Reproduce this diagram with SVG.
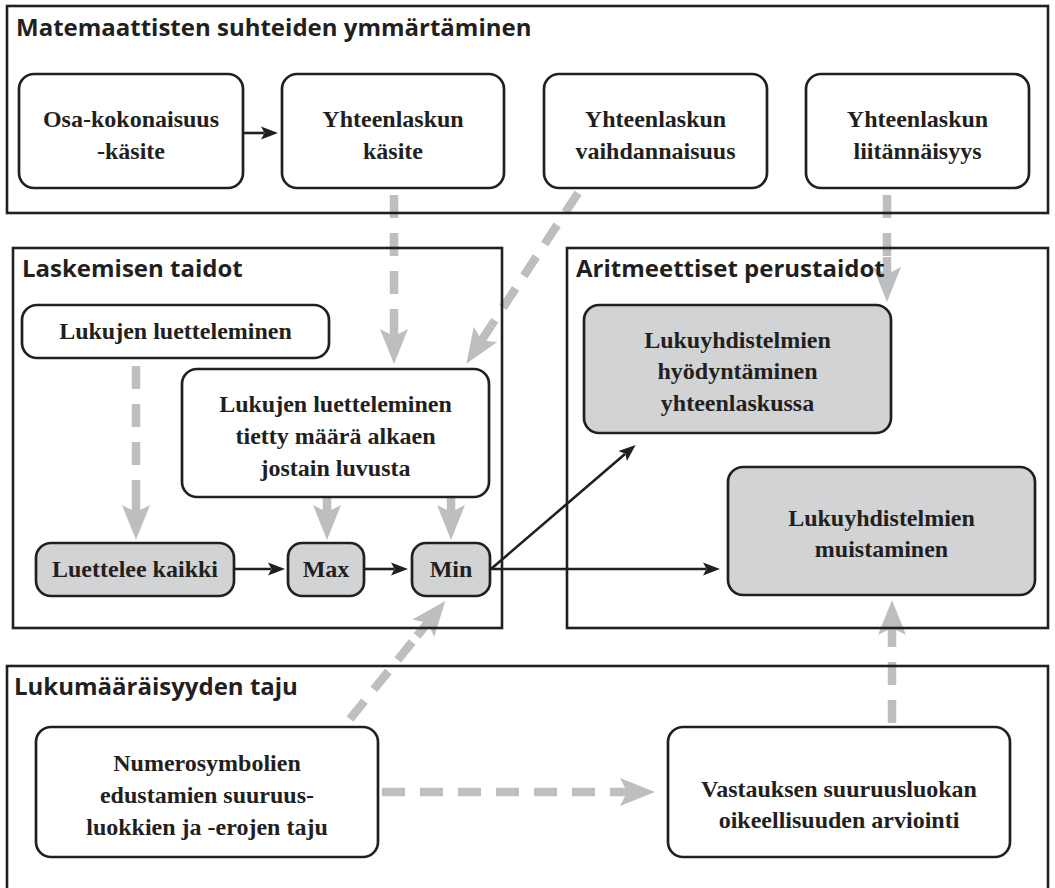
<svg xmlns="http://www.w3.org/2000/svg" width="1055" height="888" viewBox="0 0 1055 888">
<style>
.cont{fill:none;stroke:#231f20;stroke-width:2.6}
.title{font-family:"Open Sans","Liberation Sans",sans-serif;font-weight:700;font-size:24px;fill:#231f20}
.box{fill:#ffffff;stroke:#231f20;stroke-width:2.7}
.gbox{fill:#d1d3d4;stroke:#231f20;stroke-width:2.7}
.lbl{font-family:"Liberation Serif","Times New Roman",serif;font-weight:700;font-size:24px;fill:#231f20;text-anchor:middle}
.gdash{fill:none;stroke:#bcbec0;stroke-width:8.5;stroke-dasharray:23 15;marker-end:url(#gh)}
.blk{fill:none;stroke:#231f20;stroke-width:2.6;marker-end:url(#bh)}
</style>
<defs>
<marker id="gh" markerUnits="userSpaceOnUse" viewBox="-1 -15 50 30" refX="0" refY="0" markerWidth="50" markerHeight="30" orient="auto">
<path d="M0,-4.25 L15,-4.25 L10,-14 L45,0 L10,14 L15,4.25 L0,4.25 Z" fill="#bcbec0"/>
</marker>
<marker id="bh" markerUnits="userSpaceOnUse" viewBox="-3 -8 22 16" refX="3" refY="0" markerWidth="22" markerHeight="16" orient="auto">
<path d="M0,-6.5 L17,0 L0,6.5 L3.5,0 Z" fill="#231f20"/>
</marker>
</defs>
<rect x="0" y="0" width="1055" height="888" fill="#ffffff"/>

<g id="connectors">
<path class="gdash" d="M394,195 V319"/>
<path class="gdash" d="M578,193 L491,326"/>
<path class="gdash" d="M887,195 V257"/>
<path class="gdash" d="M136,366 V495"/>
<path class="gdash" d="M327,488 V495"/>
<path class="gdash" d="M451,488 V495"/>
<path class="gdash" d="M350,719 L417,636"/>
<path class="gdash" d="M382,792 H610"/>
<path class="gdash" d="M892,723 V645"/>
<path class="blk" d="M243,133 H264"/>
<path class="blk" d="M234,569 H271"/>
<path class="blk" d="M364,569 H394"/>
<path class="blk" d="M491,569 L625,454"/>
<path class="blk" d="M491,569 H706"/>
</g>

<g id="group-matemaattisten">
<rect class="cont" x="7" y="6" width="1041" height="207"/>
<text class="title" x="16" y="36">Matemaattisten suhteiden ymmärtäminen</text>
</g>
<g id="group-laskemisen">
<rect class="cont" x="13" y="248" width="489" height="380"/>
<text class="title" x="22" y="277">Laskemisen taidot</text>
</g>
<g id="group-aritmeettiset">
<rect class="cont" x="567" y="248" width="481" height="380"/>
<text class="title" x="576" y="277">Aritmeettiset perustaidot</text>
</g>
<g id="group-lukumaaraisyyden">
<rect class="cont" x="7" y="666" width="1041" height="240"/>
<text class="title" x="14" y="695">Lukumääräisyyden taju</text>
</g>

<g id="n-osa">
<rect class="box" x="19" y="74" width="224" height="114" rx="15"/>
<text class="lbl" x="131" y="127">Osa-kokonaisuus</text>
<text class="lbl" x="131" y="159">-käsite</text>
</g>
<g id="n-kasite">
<rect class="box" x="282" y="74" width="222" height="114" rx="15"/>
<text class="lbl" x="393" y="127">Yhteenlaskun</text>
<text class="lbl" x="393" y="159">käsite</text>
</g>
<g id="n-vaihdannaisuus">
<rect class="box" x="544" y="74" width="223" height="114" rx="15"/>
<text class="lbl" x="655.5" y="127">Yhteenlaskun</text>
<text class="lbl" x="655.5" y="159">vaihdannaisuus</text>
</g>
<g id="n-liitannaisyys">
<rect class="box" x="806" y="74" width="223" height="114" rx="15"/>
<text class="lbl" x="917.5" y="127">Yhteenlaskun</text>
<text class="lbl" x="917.5" y="159">liitännäisyys</text>
</g>
<g id="n-luetteleminen">
<rect class="box" x="22" y="305" width="307" height="53" rx="15"/>
<text class="lbl" x="175.5" y="339">Lukujen luetteleminen</text>
</g>
<g id="n-tietty">
<rect class="box" x="182" y="369" width="307" height="128" rx="15"/>
<text class="lbl" x="335.5" y="412">Lukujen luetteleminen</text>
<text class="lbl" x="335.5" y="444">tietty määrä alkaen</text>
<text class="lbl" x="335.5" y="476">jostain luvusta</text>
</g>
<g id="n-luettelee">
<rect class="gbox" x="36" y="543" width="198" height="53" rx="15"/>
<text class="lbl" x="135" y="577">Luettelee kaikki</text>
</g>
<g id="n-max">
<rect class="gbox" x="288" y="543" width="76" height="53" rx="14"/>
<text class="lbl" x="326" y="577">Max</text>
</g>
<g id="n-min">
<rect class="gbox" x="412" y="543" width="78" height="53" rx="14"/>
<text class="lbl" x="451" y="577">Min</text>
</g>
<g id="n-hyodyntaminen">
<rect class="gbox" x="584" y="305" width="307" height="128" rx="15"/>
<text class="lbl" x="737.5" y="348">Lukuyhdistelmien</text>
<text class="lbl" x="737.5" y="379">hyödyntäminen</text>
<text class="lbl" x="737.5" y="411">yhteenlaskussa</text>
</g>
<g id="n-muistaminen">
<rect class="gbox" x="728" y="467" width="307" height="128" rx="15"/>
<text class="lbl" x="881.5" y="526">Lukuyhdistelmien</text>
<text class="lbl" x="881.5" y="557">muistaminen</text>
</g>
<g id="n-numerosymbolien">
<rect class="box" x="36" y="727" width="342" height="130" rx="15"/>
<text class="lbl" x="207" y="771">Numerosymbolien</text>
<text class="lbl" x="207" y="803">edustamien suuruus-</text>
<text class="lbl" x="207" y="835">luokkien ja -erojen taju</text>
</g>
<g id="n-vastauksen">
<rect class="box" x="668" y="727" width="342" height="130" rx="15"/>
<text class="lbl" x="839" y="797">Vastauksen suuruusluokan</text>
<text class="lbl" x="839" y="828">oikeellisuuden arviointi</text>
</g>
</svg>
